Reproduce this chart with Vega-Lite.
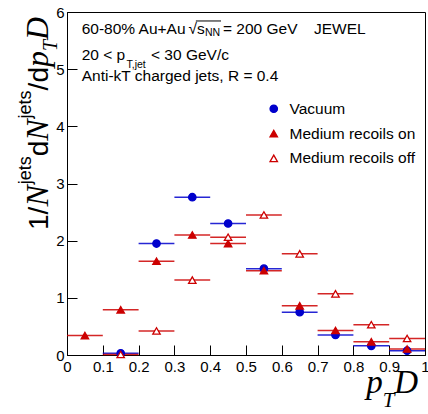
{
  "$schema": "https://vega.github.io/schema/vega-lite/v6.json",
  "width": 358,
  "height": 343,
  "autosize": {"type": "none"},
  "padding": {"left": 67, "top": 12, "right": 3, "bottom": 59},
  "background": "white",
  "config": {
    "view": {"stroke": "black", "strokeWidth": 1},
    "axis": {"labelOverlap": false, "labelFlush": false, "labelBound": false},
    "text": {"font": "Liberation Sans", "fontSize": 15.5, "align": "left", "baseline": "alphabetic", "color": "black"}
  },
  "datasets": {
    "bins": [
      {"series": "Vacuum", "lo": 0.1, "hi": 0.2, "center": 0.15, "value": 0.03},
      {"series": "Vacuum", "lo": 0.2, "hi": 0.3, "center": 0.25, "value": 1.95},
      {"series": "Vacuum", "lo": 0.3, "hi": 0.4, "center": 0.35, "value": 2.76},
      {"series": "Vacuum", "lo": 0.4, "hi": 0.5, "center": 0.45, "value": 2.30},
      {"series": "Vacuum", "lo": 0.5, "hi": 0.6, "center": 0.55, "value": 1.51},
      {"series": "Vacuum", "lo": 0.6, "hi": 0.7, "center": 0.65, "value": 0.75},
      {"series": "Vacuum", "lo": 0.7, "hi": 0.8, "center": 0.75, "value": 0.35},
      {"series": "Vacuum", "lo": 0.8, "hi": 0.9, "center": 0.85, "value": 0.16},
      {"series": "Vacuum", "lo": 0.9, "hi": 1.0, "center": 0.95, "value": 0.075},
      {"series": "Medium recoils on", "lo": 0.0, "hi": 0.1, "center": 0.05, "value": 0.34},
      {"series": "Medium recoils on", "lo": 0.1, "hi": 0.2, "center": 0.15, "value": 0.79},
      {"series": "Medium recoils on", "lo": 0.2, "hi": 0.3, "center": 0.25, "value": 1.64},
      {"series": "Medium recoils on", "lo": 0.3, "hi": 0.4, "center": 0.35, "value": 2.10},
      {"series": "Medium recoils on", "lo": 0.4, "hi": 0.5, "center": 0.45, "value": 1.95},
      {"series": "Medium recoils on", "lo": 0.5, "hi": 0.6, "center": 0.55, "value": 1.475},
      {"series": "Medium recoils on", "lo": 0.6, "hi": 0.7, "center": 0.65, "value": 0.86},
      {"series": "Medium recoils on", "lo": 0.7, "hi": 0.8, "center": 0.75, "value": 0.43},
      {"series": "Medium recoils on", "lo": 0.8, "hi": 0.9, "center": 0.85, "value": 0.23},
      {"series": "Medium recoils on", "lo": 0.9, "hi": 1.0, "center": 0.95, "value": 0.105},
      {"series": "Medium recoils off", "lo": 0.1, "hi": 0.2, "center": 0.15, "value": 0.01},
      {"series": "Medium recoils off", "lo": 0.2, "hi": 0.3, "center": 0.25, "value": 0.42},
      {"series": "Medium recoils off", "lo": 0.3, "hi": 0.4, "center": 0.35, "value": 1.31},
      {"series": "Medium recoils off", "lo": 0.4, "hi": 0.5, "center": 0.45, "value": 2.06},
      {"series": "Medium recoils off", "lo": 0.5, "hi": 0.6, "center": 0.55, "value": 2.45},
      {"series": "Medium recoils off", "lo": 0.6, "hi": 0.7, "center": 0.65, "value": 1.77},
      {"series": "Medium recoils off", "lo": 0.7, "hi": 0.8, "center": 0.75, "value": 1.07},
      {"series": "Medium recoils off", "lo": 0.8, "hi": 0.9, "center": 0.85, "value": 0.53},
      {"series": "Medium recoils off", "lo": 0.9, "hi": 1.0, "center": 0.95, "value": 0.29}
    ]
  },
  "layer": [
    {
      "layer": [
        {
          "data": {"name": "bins"},
          "transform": [{"filter": "datum.series === 'Vacuum'"}],
          "mark": {"type": "rule", "strokeWidth": 1.5, "opacity": 0.85, "color": "#0000cc"},
          "encoding": {
            "x": {
              "field": "lo", "type": "quantitative",
              "scale": {"domain": [0, 1], "nice": false, "zero": false},
              "axis": {
                "orient": "bottom", "title": null, "grid": false, "labels": false, "domain": false,
                "values": [0.02,0.04,0.06,0.08,0.12,0.14,0.16,0.18,0.22,0.24,0.26,0.28,0.32,0.34,0.36,0.38,0.42,0.44,0.46,0.48,0.52,0.54,0.56,0.58,0.62,0.64,0.66,0.68,0.72,0.74,0.76,0.78,0.82,0.84,0.86,0.88,0.92,0.94,0.96,0.98],
                "tickSize": -5, "tickColor": "black", "tickWidth": 1
              }
            },
            "x2": {"field": "hi"},
            "y": {
              "field": "value", "type": "quantitative",
              "scale": {"domain": [0, 6], "nice": false},
              "axis": {
                "orient": "left", "title": null, "grid": false, "labels": false, "domain": false,
                "values": [0.2,0.4,0.6,0.8,1.2,1.4,1.6,1.8,2.2,2.4,2.6,2.8,3.2,3.4,3.6,3.8,4.2,4.4,4.6,4.8,5.2,5.4,5.6,5.8],
                "tickSize": -5, "tickColor": "black", "tickWidth": 1
              }
            }
          }
        },
        {
          "data": {"name": "bins"},
          "transform": [{"filter": "datum.series === 'Medium recoils on'"}],
          "mark": {"type": "rule", "strokeWidth": 1.5, "opacity": 0.85, "color": "#cc0000"},
          "encoding": {
            "x": {"field": "lo", "type": "quantitative", "axis": null},
            "x2": {"field": "hi"},
            "y": {"field": "value", "type": "quantitative", "axis": null}
          }
        },
        {
          "data": {"name": "bins"},
          "transform": [{"filter": "datum.series === 'Medium recoils off'"}],
          "mark": {"type": "rule", "strokeWidth": 1.5, "opacity": 0.85, "color": "#cc0000"},
          "encoding": {
            "x": {"field": "lo", "type": "quantitative", "axis": null},
            "x2": {"field": "hi"},
            "y": {"field": "value", "type": "quantitative", "axis": null}
          }
        },
        {"data": {"values": [{}]}, "mark": {"type": "text", "text": "60-80% Au+Au"}, "encoding": {"x": {"datum": 0.0411, "axis": null}, "y": {"datum": 5.615, "axis": null}}},
        {"data": {"values": [{}]}, "mark": {"type": "text", "text": "√"}, "encoding": {"x": {"datum": 0.3394, "axis": null}, "y": {"datum": 5.615, "axis": null}}},
        {"data": {"values": [{}]}, "mark": {"type": "text", "text": "s"}, "encoding": {"x": {"datum": 0.363, "axis": null}, "y": {"datum": 5.615, "axis": null}}},
        {"data": {"values": [{}]}, "mark": {"type": "text", "text": "NN", "fontSize": 10.5}, "encoding": {"x": {"datum": 0.3855, "axis": null}, "y": {"datum": 5.585, "axis": null}}},
        {"data": {"values": [{}]}, "mark": {"type": "rule", "strokeWidth": 1, "color": "black"}, "encoding": {"x": {"datum": 0.36, "axis": null}, "x2": {"datum": 0.4302}, "y": {"datum": 5.843, "axis": null}}},
        {"data": {"values": [{}]}, "mark": {"type": "text", "text": "= 200 GeV"}, "encoding": {"x": {"datum": 0.4358, "axis": null}, "y": {"datum": 5.615, "axis": null}}},
        {"data": {"values": [{}]}, "mark": {"type": "text", "text": "JEWEL"}, "encoding": {"x": {"datum": 0.690, "axis": null}, "y": {"datum": 5.615, "axis": null}}},
        {"data": {"values": [{}]}, "mark": {"type": "text", "text": "20 < p"}, "encoding": {"x": {"datum": 0.0411, "axis": null}, "y": {"datum": 5.155, "axis": null}}},
        {"data": {"values": [{}]}, "mark": {"type": "text", "text": "T,jet", "fontSize": 10.5}, "encoding": {"x": {"datum": 0.1662, "axis": null}, "y": {"datum": 5.022, "axis": null}}},
        {"data": {"values": [{}]}, "mark": {"type": "text", "text": "< 30 GeV/c"}, "encoding": {"x": {"datum": 0.2346, "axis": null}, "y": {"datum": 5.155, "axis": null}}},
        {"data": {"values": [{}]}, "mark": {"type": "text", "text": "Anti-kT charged jets, R = 0.4"}, "encoding": {"x": {"datum": 0.0411, "axis": null}, "y": {"datum": 4.785, "axis": null}}},
        {"data": {"values": [{}]}, "mark": {"type": "text", "text": "1/", "angle": 270, "fontSize": 28}, "encoding": {"x": {"datum": -0.053, "axis": null}, "y": {"datum": 2.187, "axis": null}}},
        {"data": {"values": [{}]}, "mark": {"type": "text", "text": "N", "angle": 270, "fontSize": 32, "font": "Liberation Serif", "fontStyle": "italic"}, "encoding": {"x": {"datum": -0.053, "axis": null}, "y": {"datum": 2.596, "axis": null}}},
        {"data": {"values": [{}]}, "mark": {"type": "text", "text": "jets", "angle": 270, "fontSize": 18}, "encoding": {"x": {"datum": -0.1005, "axis": null}, "y": {"datum": 2.986, "axis": null}}},
        {"data": {"values": [{}]}, "mark": {"type": "text", "text": "d", "angle": 270, "fontSize": 28}, "encoding": {"x": {"datum": -0.053, "axis": null}, "y": {"datum": 3.476, "axis": null}}},
        {"data": {"values": [{}]}, "mark": {"type": "text", "text": "N", "angle": 270, "fontSize": 32, "font": "Liberation Serif", "fontStyle": "italic"}, "encoding": {"x": {"datum": -0.053, "axis": null}, "y": {"datum": 3.749, "axis": null}}},
        {"data": {"values": [{}]}, "mark": {"type": "text", "text": "jets", "angle": 270, "fontSize": 18}, "encoding": {"x": {"datum": -0.1005, "axis": null}, "y": {"datum": 4.139, "axis": null}}},
        {"data": {"values": [{}]}, "mark": {"type": "text", "text": "/d", "angle": 270, "fontSize": 28}, "encoding": {"x": {"datum": -0.053, "axis": null}, "y": {"datum": 4.629, "axis": null}}},
        {"data": {"values": [{}]}, "mark": {"type": "text", "text": "p", "angle": 270, "fontSize": 32, "font": "Liberation Serif", "fontStyle": "italic"}, "encoding": {"x": {"datum": -0.053, "axis": null}, "y": {"datum": 5.038, "axis": null}}},
        {"data": {"values": [{}]}, "mark": {"type": "text", "text": "T", "angle": 270, "fontSize": 20, "font": "Liberation Serif", "fontStyle": "italic"}, "encoding": {"x": {"datum": -0.028, "axis": null}, "y": {"datum": 5.318, "axis": null}}},
        {"data": {"values": [{}]}, "mark": {"type": "text", "text": "D", "angle": 270, "fontSize": 32, "font": "Liberation Serif", "fontStyle": "italic"}, "encoding": {"x": {"datum": -0.053, "axis": null}, "y": {"datum": 5.512, "axis": null}}},
        {"data": {"values": [{}]}, "mark": {"type": "text", "text": "p", "fontSize": 33, "font": "Liberation Serif", "fontStyle": "italic"}, "encoding": {"x": {"datum": 0.836, "axis": null}, "y": {"datum": -0.665, "axis": null}}},
        {"data": {"values": [{}]}, "mark": {"type": "text", "text": "T", "fontSize": 21, "font": "Liberation Serif", "fontStyle": "italic"}, "encoding": {"x": {"datum": 0.882, "axis": null}, "y": {"datum": -0.91, "axis": null}}},
        {"data": {"values": [{}]}, "mark": {"type": "text", "text": "D", "fontSize": 33, "font": "Liberation Serif", "fontStyle": "italic"}, "encoding": {"x": {"datum": 0.914, "axis": null}, "y": {"datum": -0.665, "axis": null}}}
      ]
    },
    {
      "data": {"name": "bins"},
      "mark": {"type": "point", "size": 55, "strokeWidth": 1.3, "opacity": 1},
      "encoding": {
        "x": {
          "field": "center", "type": "quantitative",
          "axis": {
            "orient": "bottom", "title": null, "grid": false,
            "values": [0, 0.1, 0.2, 0.3, 0.4, 0.5, 0.6, 0.7, 0.8, 0.9, 1],
            "labelExpr": "format(datum.value, '~g')",
            "tickSize": -10, "tickColor": "black", "tickWidth": 1,
            "domainColor": "black", "domainWidth": 1,
            "labelFont": "Liberation Sans", "labelFontSize": 15, "labelColor": "black",
            "labelPadding": 14, "labelOverlap": false, "labelFlush": false, "labelBound": false, "labelSeparation": 0
          }
        },
        "y": {
          "field": "value", "type": "quantitative",
          "axis": {
            "orient": "left", "title": null, "grid": false,
            "values": [0, 1, 2, 3, 4, 5, 6],
            "format": "~g",
            "tickSize": -10, "tickColor": "black", "tickWidth": 1,
            "domainColor": "black", "domainWidth": 1,
            "labelFont": "Liberation Sans", "labelFontSize": 15, "labelColor": "black",
            "labelPadding": 13, "labelOverlap": false, "labelFlush": false, "labelBound": false
          }
        },
        "shape": {
          "field": "series", "type": "nominal",
          "scale": {"domain": ["Vacuum", "Medium recoils on", "Medium recoils off"], "range": ["circle", "triangle-up", "triangle-up"]},
          "legend": {
            "title": null, "orient": "none", "legendX": 199, "legendY": 89, "padding": 0,
            "labelFont": "Liberation Sans", "labelFontSize": 15.5, "labelColor": "black",
            "labelOffset": 8, "rowPadding": 7.8, "symbolSize": 55, "symbolStrokeWidth": 1.3
          }
        },
        "fill": {
          "field": "series", "type": "nominal",
          "scale": {"domain": ["Vacuum", "Medium recoils on", "Medium recoils off"], "range": ["#0000cc", "#cc0000", "#ffffff"]},
          "legend": {
            "title": null, "orient": "none", "legendX": 199, "legendY": 89, "padding": 0,
            "labelFont": "Liberation Sans", "labelFontSize": 15.5, "labelColor": "black",
            "labelOffset": 8, "rowPadding": 7.8, "symbolSize": 55, "symbolStrokeWidth": 1.3
          }
        },
        "stroke": {
          "field": "series", "type": "nominal",
          "scale": {"domain": ["Vacuum", "Medium recoils on", "Medium recoils off"], "range": ["#0000cc", "#cc0000", "#cc0000"]},
          "legend": {
            "title": null, "orient": "none", "legendX": 199, "legendY": 89, "padding": 0,
            "labelFont": "Liberation Sans", "labelFontSize": 15.5, "labelColor": "black",
            "labelOffset": 8, "rowPadding": 7.8, "symbolSize": 55, "symbolStrokeWidth": 1.3
          }
        }
      }
    }
  ],
  "resolve": {"axis": {"x": "independent", "y": "independent"}}
}
